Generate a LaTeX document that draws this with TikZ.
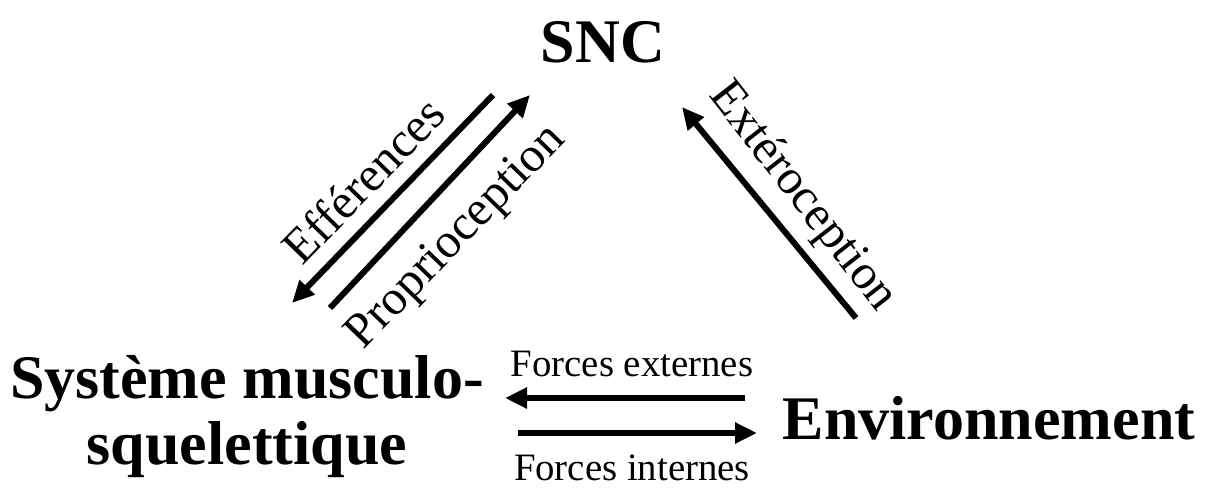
\documentclass[tikz,border=0pt]{standalone}
\usepackage{fontspec}
\setmainfont{Liberation Serif}
\usetikzlibrary{arrows.meta,positioning}

\tikzset{
  bloc/.style={font=\fontsize{31}{33}\selectfont\bfseries, align=center, inner sep=0pt},
  lien/.style={font=\fontsize{24.5}{26}\selectfont, inner sep=0pt},
  force/.style={font=\fontsize{19.4}{21}\selectfont, inner sep=0pt},
  fleche/.style={line width=3pt, -{Triangle[length=11pt,width=10pt]}}
}

\begin{document}
\begin{tikzpicture}[x=0.5pt,y=-0.5pt]
            \useasboundingbox (0,0) rectangle (1212,489);
            % blocs
            \node[bloc] (snc) at (603,42) {SNC};
            \node[bloc] (sms) at (247,417) {Système musculo-\\squelettique};
            \node[bloc] (env) at (989,418) {Environnement};
            % extremites des fleches
            \coordinate (eff1) at (493,95);
            \coordinate (eff2) at (292,303);
            \coordinate (pro1) at (330,308);
            \coordinate (pro2) at (530,95);
            \coordinate (ext1) at (856,318);
            \coordinate (ext2) at (682,107);
            \coordinate (fe1) at (745,398);
            \coordinate (fe2) at (505,398);
            \coordinate (fi1) at (518,433);
            \coordinate (fi2) at (757,433);
            \draw[fleche] (eff1) -- (eff2);
            \draw[fleche] (pro1) -- (pro2);
            \draw[fleche] (ext1) -- (ext2);
            \draw[fleche] (fe1) -- (fe2);
            \draw[fleche] (fi1) -- (fi2);
            % etiquettes
            \node[lien,rotate=45.8] (effl) at (363,180) {Efférences};
            \node[lien,rotate=46] (prol) at (457,238) {Proprioception};
            \node[lien,rotate=-52] (extl) at (802,197) {Extéroception};
            \node[force] (fel) at (632,364) {Forces externes};
            \node[force] (fil) at (632,468) {Forces internes};
        \end{tikzpicture}
\end{document}
